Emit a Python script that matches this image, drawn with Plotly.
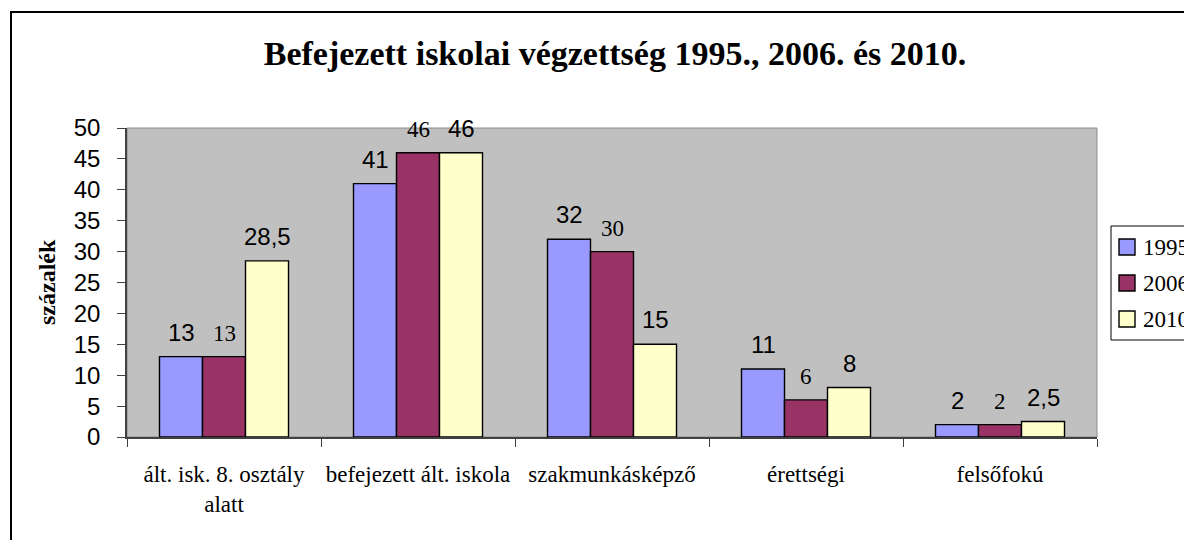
import plotly.graph_objects as go

categories = ["ált. isk. 8. osztály<br>alatt", "befejezett ált. iskola", "szakmunkásképző", "érettségi", "felsőfokú"]
years = ["1995", "2006", "2010"]
v1995 = [13, 41, 32, 11, 2]
v2006 = [13, 46, 30, 6, 2]
v2010 = [28.5, 46, 15, 8, 2.5]
y_ticks = [0, 5, 10, 15, 20, 25, 30, 35, 40, 45, 50]

colors = ["#9999FF", "#993366", "#FFFFCC"]
SANS = "Liberation Sans, Arial"
SERIF = "Liberation Serif, Times New Roman"
label_fonts = [
    dict(family=SANS, size=24, color="black"),
    dict(family=SERIF, size=23, color="black"),
    dict(family=SANS, size=24, color="black"),
]
series = [v1995, v2006, v2010]

fig = go.Figure()
for name, vals, col in zip(years, series, colors):
    fig.add_trace(go.Bar(
        x=categories, y=vals, name=name, showlegend=False,
        marker=dict(color=col, line=dict(color="black", width=1.4)),
    ))

def fmt(v):
    return ("%g" % v).replace(".", ",")

offsets = [-43, 0, 43]
for vals, font, dx in zip(series, label_fonts, offsets):
    for c, v in zip(categories, vals):
        fig.add_annotation(x=c, y=v, xref="x", yref="y", text=fmt(v),
                           showarrow=False, xshift=dx, yshift=9,
                           yanchor="bottom", font=font)

# the page places the figure 8px in from the top-left corner
OFF = 8
W, H = 1192, 540
L, R, T, B = 127 - OFF, 1097 - OFF, 128 - OFF, 437 - OFF
pw, ph = R - L, B - T

def px(x):
    return (x - OFF - L) / pw

def py(y):
    return (B - (y - OFF)) / ph

fig.add_annotation(text="<b>százalék</b>", textangle=-90, showarrow=False,
                   xref="paper", yref="paper", x=px(47), y=py(282),
                   xanchor="center", yanchor="middle",
                   font=dict(family=SERIF, size=24, color="black"))

# outer chart border
fig.add_shape(type="rect", xref="paper", yref="paper",
              x0=px(11), x1=px(1260), y0=py(600), y1=py(12),
              line=dict(color="black", width=2), fillcolor="rgba(0,0,0,0)", layer="below")
# plot area frame
fig.add_shape(type="rect", xref="paper", yref="paper", x0=0, x1=1, y0=0, y1=1,
              line=dict(color="#8c8c8c", width=1), fillcolor="rgba(0,0,0,0)", layer="below")

# legend (drawn as box, swatches and labels)
leg_top, leg_bottom, leg_left = 226, 340, 1111
row_y = [247, 283, 319]
fig.add_shape(type="rect", xref="paper", yref="paper",
              x0=px(leg_left), x1=px(1260), y0=py(leg_bottom), y1=py(leg_top),
              line=dict(color="black", width=1), fillcolor="white", layer="above")
for name, col, ry in zip(years, colors, row_y):
    fig.add_shape(type="rect", xref="paper", yref="paper",
                  x0=px(1119), x1=px(1135), y0=py(ry + 8), y1=py(ry - 8),
                  line=dict(color="black", width=1.4), fillcolor=col, layer="above")
    fig.add_annotation(text=name, xref="paper", yref="paper", x=px(1141), y=py(ry),
                       xanchor="left", yanchor="middle", showarrow=False,
                       font=dict(family=SERIF, size=23, color="black"))

fig.update_layout(
    width=W, height=H,
    margin=dict(l=L, r=W - R, t=T, b=H - B, autoexpand=False),
    paper_bgcolor="white", plot_bgcolor="#C0C0C0",
    barmode="group", bargap=0.335, bargroupgap=0,
    title=dict(text="<b>Befejezett iskolai végzettség 1995., 2006. és 2010.</b>",
               x=(615 - OFF) / W, y=1 - (53 - OFF) / H, xanchor="center", yanchor="middle",
               font=dict(family=SERIF, size=34, color="black")),
    xaxis=dict(showline=True, linecolor="#404040", linewidth=1.5, ticks="outside",
               ticklen=8, tickcolor="#404040", tickson="boundaries", showgrid=False,
               tickfont=dict(family=SERIF, size=23, color="black"),
               ticklabelstandoff=16),
    yaxis=dict(range=[0, 50], tickvals=y_ticks, showline=True, linecolor="#404040", linewidth=1.5,
               ticks="outside", ticklen=8, tickcolor="#404040", showgrid=False, zeroline=False,
               tickfont=dict(family=SANS, size=24, color="black"),
               ticklabelstandoff=12),
    showlegend=False,
)

fig.write_html("out.html")
